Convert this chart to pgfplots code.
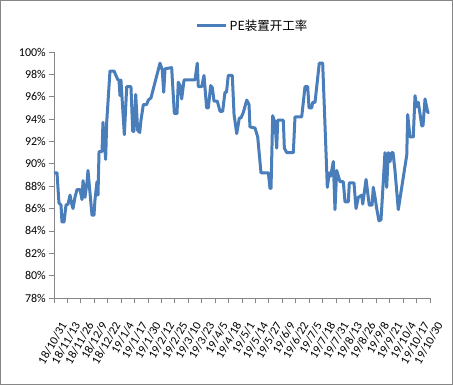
\documentclass[border=0pt]{standalone}
\usepackage{fontspec}
\setmainfont{Carlito}
\newfontfamily\cjk{Noto Sans CJK SC}
\usepackage{pgfplots}
\pgfplotsset{compat=1.18}
\definecolor{serblue}{HTML}{4A7EBB}
\definecolor{axgray}{HTML}{868686}
\begin{document}
\begin{tikzpicture}
\useasboundingbox (0pt,0pt) rectangle (453pt,385pt);
\draw[axgray, line width=0.8pt] (0.5pt,0.5pt) rectangle (452.5pt,384.5pt);
\begin{axis}[
  at={(54pt,87pt)}, anchor=south west,
  scale only axis, width=376pt, height=246pt,
  xmin=0, xmax=364, ymin=78, ymax=100,
  axis x line=bottom, axis y line=left,
  axis line style={axgray, line width=0.8pt, -},
  every tick/.style={axgray, line width=0.8pt},
  tick align=outside, major tick length=5pt,
  ytick={78,80,...,100},
  yticklabels={78\%,80\%,82\%,84\%,86\%,88\%,90\%,92\%,94\%,96\%,98\%,100\%},
  xtick={0,13,...,364},
  xticklabels={18/10/31,18/11/13,18/11/26,18/12/9,18/12/22,19/1/4,19/1/17,19/1/30,19/2/12,19/2/25,19/3/10,19/3/23,19/4/5,19/4/18,19/5/1,19/5/14,19/5/27,19/6/9,19/6/22,19/7/5,19/7/18,19/7/31,19/8/13,19/8/26,19/9/8,19/9/21,19/10/4,19/10/17,19/10/30},
  tick label style={font=\fontsize{12}{14}\selectfont, text=black},
  xticklabel style={xshift=6pt, yshift=-18pt, rotate=60, anchor=north east, inner sep=0pt},
  yticklabel style={inner sep=0pt, xshift=-3pt},
  legend style={at={(axis description cs:0.528,1.106)}, anchor=center, draw=none, fill=none,
    font=\cjk\fontsize{12.5}{14}\selectfont, inner sep=0pt},
  legend image code/.code={\draw[#1] (0pt,0pt) -- (29pt,0pt);},
  clip=false,
]
\addplot[serblue, line width=3pt, line join=round] coordinates {
(0,89.2) (2.9,89.2) (4.8,86.5) (6.8,86.3) (7.7,84.8) (9.7,84.8) (11.6,86.3) (13.6,86.4)
(15.5,87.2) (17.4,86.3) (18.4,86.0) (20.3,87.0) (22.3,87.7) (25.2,87.7) (27.1,86.8) (28.1,88.5)
(30.0,87.0) (32.0,88.4) (32.9,89.4) (36.8,85.4) (38.7,85.4) (39.7,86.8) (41.6,88.4) (42.6,87.2)
(43.6,91.1) (46.5,91.1) (47.4,93.7) (50.0,90.4) (51.0,93.7) (54.2,98.3) (58.1,98.3) (61.9,97.5)
(62.9,97.5) (63.9,96.1) (64.8,97.5) (68.1,92.6) (70.4,96.9) (74.5,96.9) (76.2,92.9) (77.4,92.9)
(79.1,96.2) (81.0,93.0) (83.0,92.8) (84.2,93.9) (86.5,95.3) (89.7,95.3) (91.3,95.7) (93.9,95.9)
(102.6,99.0) (104.8,98.4) (106.2,96.4) (107.5,98.5) (113.9,98.6) (116.5,94.5) (119.1,94.5) (120.3,97.3)
(122.0,97.0) (123.6,95.8) (125.9,97.5) (136.5,97.5) (138.7,99.0) (139.7,96.9) (143.0,96.9) (145.2,97.9)
(147.8,95.0) (149.4,95.0) (151.7,97.0) (153.3,96.8) (154.9,95.6) (158.1,95.6) (160.7,94.7) (163.3,94.7)
(165.5,96.4) (167.0,96.4) (168.7,97.9) (172.6,97.9) (174.3,94.4) (176.9,92.7) (179.4,94.1) (181.0,94.1)
(183.3,94.6) (186.6,95.7) (188.8,95.3) (189.7,93.3) (194.6,93.2) (197.2,92.4) (200.4,89.2) (207.5,89.2)
(209.1,87.8) (210.1,87.8) (211.7,94.3) (213.9,93.7) (215.6,91.4) (216.6,93.9) (222.0,93.9) (223.0,91.4)
(225.3,91.0) (231.7,91.0) (233.3,94.2) (239.8,94.2) (243.0,96.9) (245.6,96.9) (246.9,95.0) (249.5,95.0)
(250.4,95.5) (252.7,95.5) (256.8,99.0) (260.1,99.0) (264.6,87.9) (266.5,89.2) (267.9,88.9) (270.4,90.2)
(272.0,85.9) (273.7,89.4) (276.9,88.4) (280.1,88.4) (281.7,86.6) (284.9,86.6) (285.9,88.3) (290.4,88.3)
(292.4,86.0) (294.6,87.0) (297.9,87.2) (298.9,86.4) (302.1,88.6) (305.2,86.3) (307.9,86.3) (309.1,87.9)
(310.8,87.0) (312.4,86.0) (314.6,84.9) (316.6,85.0) (320.4,91.0) (322.1,87.9) (323.6,91.0) (325.3,90.2)
(326.9,91.0) (328.2,91.0) (330.1,89.4) (333.3,85.9) (341.5,90.8) (342.4,94.4) (344.6,92.4) (347.8,92.4)
(349.5,96.1) (351.1,95.1) (352.7,95.5) (356.0,93.4) (357.2,93.4) (359.2,95.8) (361.8,94.6) (363.3,94.6)
};
\addlegendentry{PE装置开工率}
\end{axis}
\end{tikzpicture}
\end{document}
